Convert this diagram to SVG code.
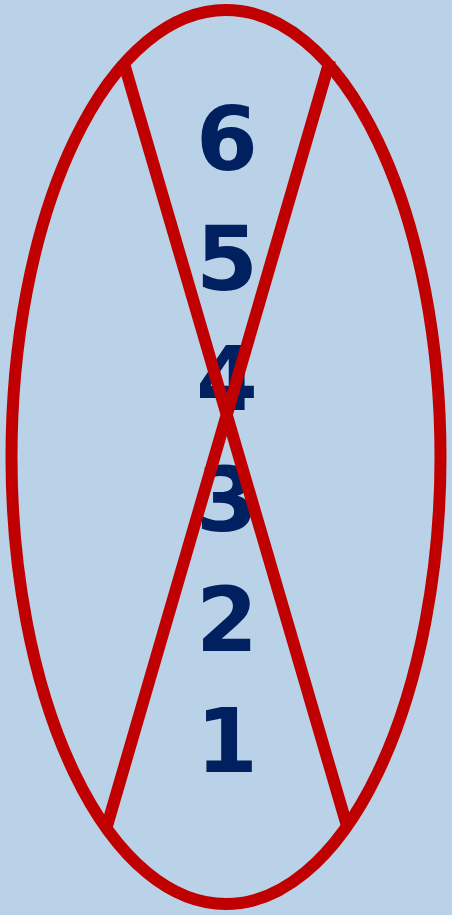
<svg xmlns="http://www.w3.org/2000/svg" width="452" height="915" viewBox="0 0 452 915">
<style>
.d{font-family:"DejaVu Sans","Verdana",sans-serif;font-weight:bold;font-size:89px;fill:#002060;text-anchor:middle}
.r{fill:none;stroke:#c00000;stroke-width:12}
</style>
<rect width="452" height="915" fill="#bad2e8"/>
<g id="digits">
<text class="d" x="227" y="170">6</text>
<text class="d" x="227" y="290">5</text>
<text class="d" x="227" y="410">4</text>
<text class="d" x="227" y="531">3</text>
<text class="d" x="227" y="651">2</text>
<text class="d" x="227" y="772">1</text>
</g>
<g id="connectors">
<ellipse class="r" cx="226" cy="457" rx="214.5" ry="447"/>
<line class="r" x1="123" y1="60" x2="347" y2="826"/>
<line class="r" x1="330" y1="60" x2="107" y2="826"/>
</g>
</svg>
